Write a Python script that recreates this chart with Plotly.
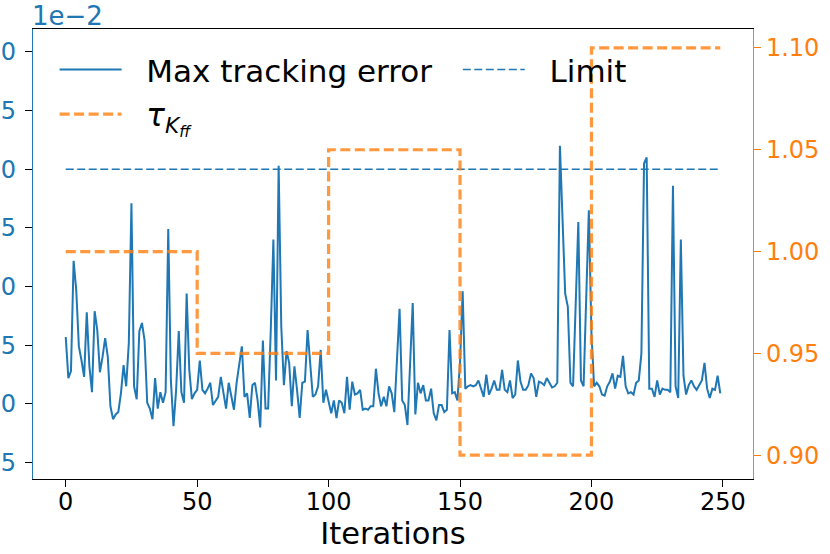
import plotly.graph_objects as go

# Max tracking error per iteration, in units of 1e-2
max_tracking_error = [
    5.7, 2.2, 2.8, 12.2, 9.7, 4.9, 3.7, 2.3, 7.8, 3.2,
    1.0, 7.9, 6.3, 2.7, 4.0, 5.6, 4.0, -0.2, -1.3, -0.9,
    -0.7, 0.9, 3.3, 1.5, 5.2, 17.1, 1.5, 0.4, 6.2, 6.9,
    5.4, 0.1, -0.4, -1.3, 2.2, -0.4, 1.0, 0.1, 1.0, 14.9,
    2.0, -1.9, 1.2, 6.2, 1.0, 0.1, 9.4, 2.9, 0.4, 0.9,
    1.2, 3.7, 1.2, 0.9, 1.3, 1.8, -0.1, 0.2, 0.6, 2.3,
    1.0, -0.4, 1.8, 0.6, -0.5, 1.8, 3.5, 4.9, 0.6, 0.9,
    -1.2, 1.6, 1.8, 0.3, -2.0, 5.4, -0.4, -0.4, 6.3, 14.0,
    2.0, 20.3, 6.6, 1.6, 4.5, 3.5, -0.2, 3.2, 1.2, -1.2,
    1.8, 1.9, 6.3, 3.2, 0.6, 0.8, 1.5, 4.6, 0.1, 1.2,
    0.3, -0.8, 0.3, -1.2, 0.3, 0.1, -0.8, 2.3, -0.5, 1.9,
    0.8, 0.9, 1.2, -0.5, -0.4, -0.5, -0.2, -0.2, 3.0, 0.9,
    -0.2, 0.6, -0.2, 1.5, 0.9, -0.7, 3.7, 8.1, 0.3, -0.1,
    -1.8, 3.4, 8.6, -0.9, 1.8, 0.9, 1.6, 0.3, 0.3, 1.3,
    -0.8, -1.4, -0.1, -0.1, -0.7, -0.5, 6.3, 0.9, 1.0, 0.3,
    3.5, 9.6, 1.3, 1.5, 1.6, 1.5, 1.6, 2.0, 1.3, 0.6,
    2.5, 0.8, 1.3, 2.0, 1.2, 1.2, 2.9, 1.2, 1.0, 2.0,
    0.5, 0.8, 3.7, 1.9, 1.2, 1.2, 1.6, 2.6, 2.2, 0.6,
    1.9, 1.8, 1.6, 2.2, 1.8, 1.4, 1.5, 1.8, 22.0, 15.7,
    9.4, 8.3, 1.8, 1.5, 8.5, 15.5, 2.0, 1.5, 9.0, 16.5,
    6.0, 1.5, 1.8, 1.5, 0.8, 0.7, 1.5, 1.9, 2.6, 1.3,
    2.4, 2.3, 4.1, 1.5, 0.9, 1.0, 0.8, 1.8, 2.0, 4.3,
    20.5, 21.0, 1.3, 1.3, 0.6, 2.0, 0.8, 1.3, 1.2, 1.2,
    1.0, 18.6, 1.5, 0.5, 14.0, 2.4, 0.8, 1.6, 2.0, 1.5,
    1.2, 1.6, 2.0, 3.5, 1.3, 0.5, 1.3, 1.2, 2.4, 0.9,
]
iterations = list(range(len(max_tracking_error)))

# limit on the tracking error (1e-2)
limit_x = [0, 249]
limit_y = [20, 20]

# feed-forward gain factor, changed every 50 iterations
tau_x = [0, 50, 100, 150, 200, 249]
tau_y = [1.00, 0.95, 1.05, 0.90, 1.10, 1.10]

BLUE = "#1f77b4"
ORANGE = "#ff7f0e"
FONT = "DejaVu Sans"
GAP = "\u00a0\u00a0"  # pushes legend text away from the line sample

fig = go.Figure()

fig.add_trace(
    go.Scatter(
        x=iterations,
        y=max_tracking_error,
        mode="lines",
        line=dict(color=BLUE, width=2),
        name=GAP + "Max tracking error",
        legend="legend",
    )
)
fig.add_trace(
    go.Scatter(
        x=limit_x,
        y=limit_y,
        mode="lines",
        line=dict(color=BLUE, width=1.5, dash="8px,3.5px"),
        name=GAP + "Limit",
        legend="legend2",
    )
)
fig.add_trace(
    go.Scatter(
        x=tau_x,
        y=tau_y,
        mode="lines",
        line=dict(color=ORANGE, width=3.2, dash="10px,4.5px", shape="hv"),
        opacity=0.8,
        name=GAP + "<i>τ</i><sub><i>K</i><sub><i>ff</i></sub></sub>",
        yaxis="y2",
        legend="legend3",
    )
)

legend_style = dict(
    bgcolor="rgba(0,0,0,0)",
    font=dict(family=FONT, size=31, color="black"),
    itemwidth=62,
    xanchor="left",
    yanchor="middle",
)

fig.update_layout(
    width=830,
    height=554,
    margin=dict(l=33, r=77, t=29, b=75, autoexpand=False),
    plot_bgcolor="white",
    paper_bgcolor="white",
    font=dict(family=FONT, size=24, color="black"),
    showlegend=True,
    legend=dict(x=0.03, y=0.909, **legend_style),
    legend2=dict(x=0.59, y=0.909, **legend_style),
    legend3=dict(x=0.03, y=0.81, **legend_style),
    xaxis=dict(
        range=[-12.45, 261.45],
        dtick=50,
        tick0=0,
        showgrid=False,
        zeroline=False,
        showline=True,
        linecolor="black",
        linewidth=1.2,
        mirror=True,
        ticks="outside",
        ticklen=7,
        tickcolor="black",
        tickfont=dict(size=24, color="black"),
        ticklabelstandoff=-6,
        title=dict(text="Iterations", font=dict(size=30.5), standoff=4),
    ),
    yaxis=dict(
        range=[-6.4, 31.95],
        dtick=5,
        tick0=0,
        showgrid=False,
        zeroline=False,
        showline=True,
        linecolor=BLUE,
        linewidth=1.2,
        ticks="outside",
        ticklen=7,
        tickcolor="black",
        tickfont=dict(size=24, color=BLUE),
        ticklabelstandoff=4,
        automargin=False,
    ),
    yaxis2=dict(
        overlaying="y",
        side="right",
        range=[0.8883, 1.1093],
        dtick=0.05,
        tick0=0.9,
        tickformat=".2f",
        showgrid=False,
        zeroline=False,
        showline=True,
        linecolor=ORANGE,
        linewidth=1.2,
        ticks="outside",
        ticklen=7,
        tickcolor=ORANGE,
        tickfont=dict(size=24, color=ORANGE),
    ),
    annotations=[
        dict(
            text="1e\u22122",
            xref="paper",
            yref="paper",
            x=0,
            y=1,
            xanchor="left",
            yanchor="bottom",
            showarrow=False,
            font=dict(size=26, color=BLUE, family=FONT),
            xshift=-3,
            yshift=-4,
        )
    ],
)

# the page has a default 8px body margin; drop it so the figure sits at 0,0
fig.write_html(
    "out.html",
    config={"displayModeBar": False},
    post_script="document.body.style.margin = '0';",
)
